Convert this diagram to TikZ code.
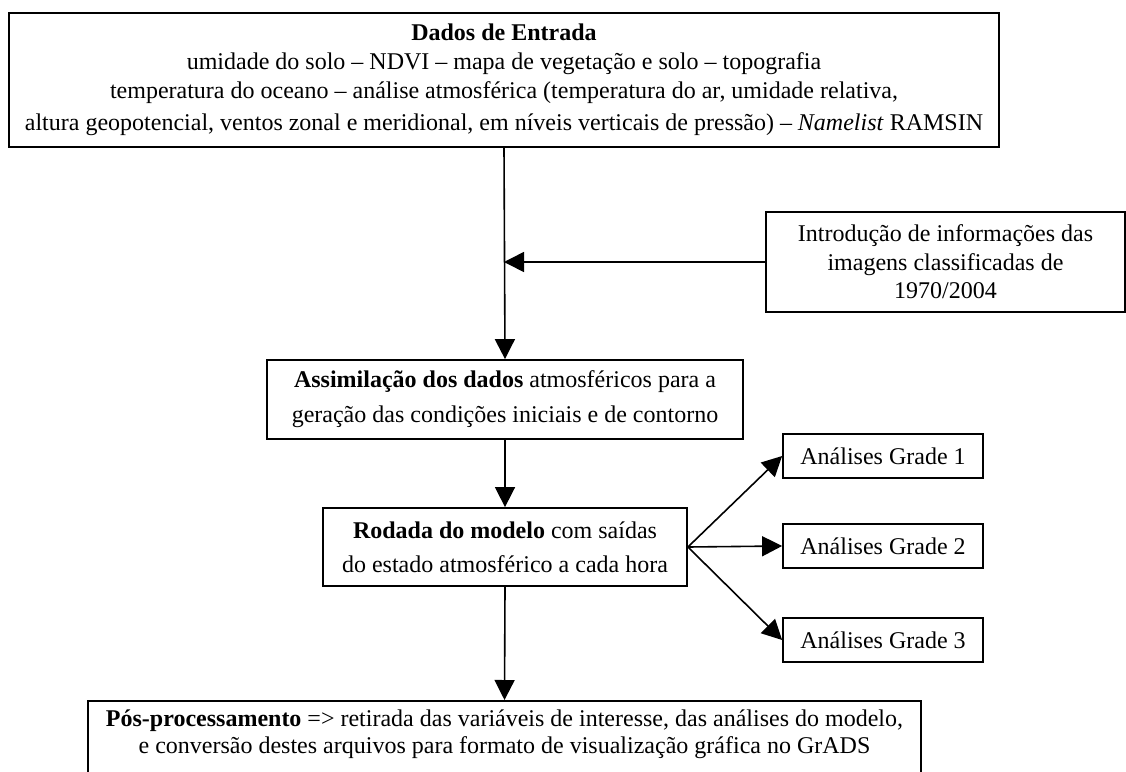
\documentclass[tikz,border=0pt]{standalone}
\usepackage{fontspec}
\setmainfont{Liberation Serif}
\usetikzlibrary{arrows.meta}
\tikzset{
  box/.style={draw, line width=1.8pt, rectangle, inner sep=0pt, align=center,
    font=\fontsize{24}{28.5}\selectfont},
  txt/.style={inner sep=0pt, align=center},
  arr/.style={line width=1.6pt, -{Triangle[length=20pt,width=20pt]}},
  conn/.style={line width=1.6pt}
}
\begin{document}
\begin{tikzpicture}[x=1pt,y=1pt]
\useasboundingbox (0,0) rectangle (1126,-771);
\clip (0,0) rectangle (1126,-771);
\fill[white] (0,0) rectangle (1126,-771);

% Dados de Entrada
\node[box, minimum width=990, minimum height=134,
  font=\fontsize{24}{29}\selectfont] (dados) at (504,-80)
  {\textbf{Dados de Entrada}\\
   umidade do solo – NDVI – mapa de vegetação e solo – topografia\\
   temperatura do oceano – análise atmosférica (temperatura do ar, umidade relativa,\\[3pt]
   altura geopotencial, ventos zonal e meridional, em níveis verticais de pressão) – \textit{Namelist} RAMSIN};

% Introducao (right border at the picture's edge)
\node[box, minimum width=359, minimum height=100,
  font=\fontsize{24}{28.5}\selectfont] (intro) at (945.5,-262)
  {Introdução de informações das\\ imagens classificadas de\\ 1970/2004};

% Assimilacao
\node[box, minimum width=476, minimum height=79,
  font=\fontsize{24}{35}\selectfont] (assim) at (505,-399.5)
  {\textbf{Assimilação dos dados} atmosféricos para a\\ geração das condições iniciais e de contorno};

% Rodada
\node[box, minimum width=364, minimum height=78,
  font=\fontsize{24}{34}\selectfont] (rodada) at (505,-547)
  {\textbf{Rodada do modelo} com saídas\\ do estado atmosférico a cada hora};

% Grades
\node[box, minimum width=200, minimum height=44] (g1) at (883,-456) {Análises Grade 1};
\node[box, minimum width=200, minimum height=44] (g2) at (883,-546) {Análises Grade 2};
\node[box, minimum width=200, minimum height=44] (g3) at (883,-640) {Análises Grade 3};

% Pos-processamento (box runs past the bottom edge)
\node[box, anchor=north, minimum width=833, minimum height=110] (pos) at (504.5,-700) {};
\node[txt, font=\fontsize{24}{27}\selectfont] (postxt) at (504.5,-734.5)
  {\textbf{Pós-processamento} => retirada das variáveis de interesse, das análises do modelo,\\
   e conversão destes arquivos para formato de visualização gráfica no GrADS};

% Connectors
\draw[arr] (dados.south) -- (assim.north);
\draw[arr] (intro.west) -- (intro.west -| dados.south);
\draw[arr] (assim.south) -- (rodada.north);
\draw[arr] (rodada.east) -- (g1.west);
\draw[arr] (rodada.east) -- (g2.west);
\draw[arr] (rodada.east) -- (g3.west);
\draw[arr] (rodada.south) -- (pos.north);
\end{tikzpicture}
\end{document}
